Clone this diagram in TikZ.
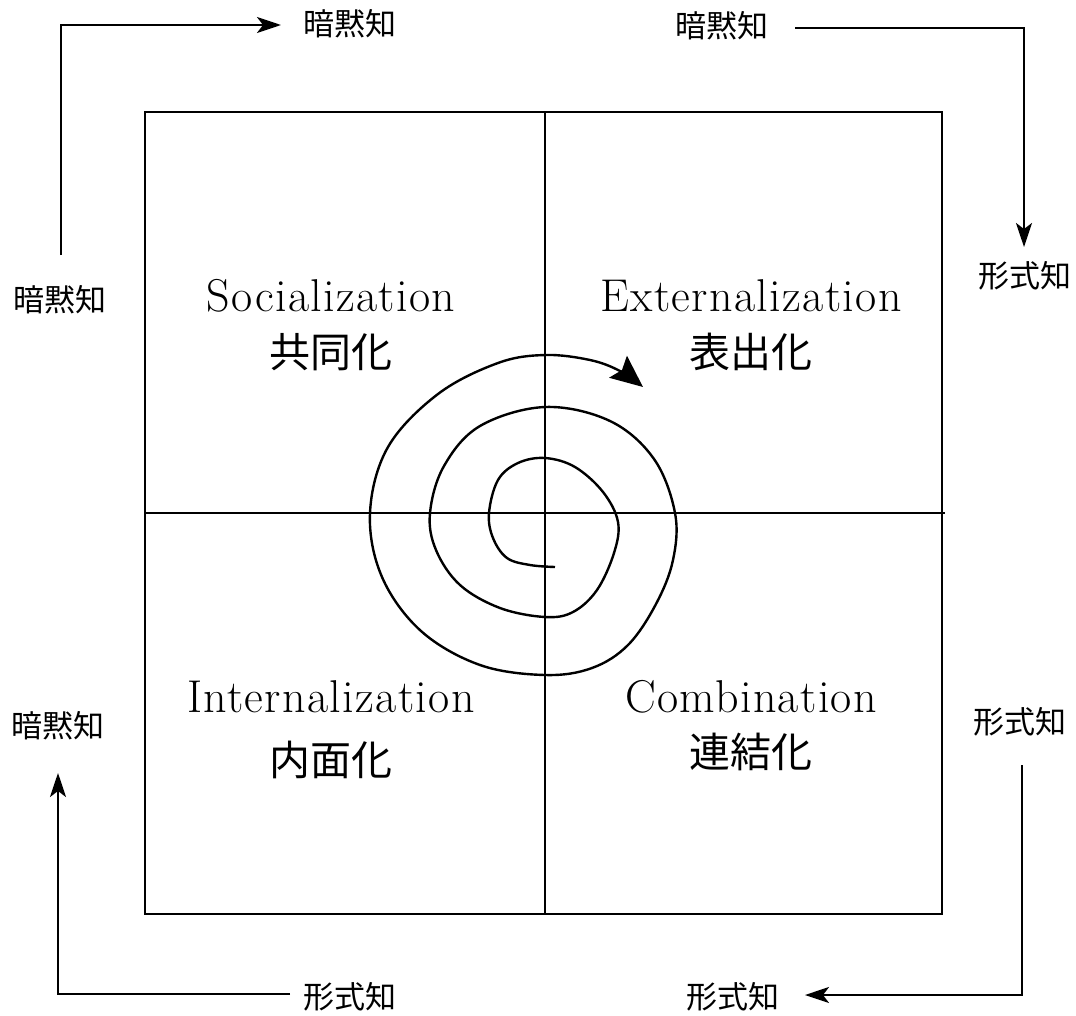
\documentclass[tikz,border=0pt]{standalone}
\usepackage{fontspec}
\setmainfont{Latin Modern Roman}[LetterSpace=3]
\newfontfamily\jp{Noto Sans CJK JP}
\usetikzlibrary{arrows.meta}
\begin{document}
\begin{tikzpicture}[x=1pt,y=-1pt,
  ln/.style={line width=2.4pt,line join=miter},
  arr/.style={ln,-{Stealth[length=24pt,width=16pt,inset=6pt]}},
  small/.style={font=\jp\fontsize{31}{33}\selectfont,inner sep=0pt},
  en/.style={font=\fontsize{46}{50}\selectfont,inner sep=0pt},
  big/.style={font=\jp\fontsize{41}{44}\selectfont,inner sep=0pt}]
\useasboundingbox (0,0) rectangle (1076,1015);
% grid
\draw[ln] (145,112) rectangle (942,914);
\draw[ln] (145,513) -- (945,513);
\draw[ln] (545,112) -- (545,914);
% quadrant labels
\node[en] (soc) at (331,296) {Socialization};
\node[big] (socj) at (331,352) {共同化};
\node[en] (ext) at (751,296) {Externalization};
\node[big] (extj) at (751,352) {表出化};
\node[en] (int) at (331,697) {Internalization};
\node[big] (intj) at (331,760) {内面化};
\node[en] (com) at (751,697) {Combination};
\node[big] (comj) at (751,752) {連結化};
% outer labels
\node[small] (tlT) at (350,24) {暗黙知};
\node[small] (trT) at (722,26) {暗黙知};
\node[small] (rT) at (1025,276) {形式知};
\node[small] (lT) at (60,300) {暗黙知};
\node[small] (lB) at (58,726) {暗黙知};
\node[small] (rB) at (1020,722) {形式知};
\node[small] (blB) at (350,997) {形式知};
\node[small] (brB) at (733,997) {形式知};
% corner arrows
\coordinate (c1s) at (61,255);
\coordinate (c1e) at (281,25);
\draw[arr] (c1s) |- (c1e);
\coordinate (c2s) at (795,28);
\coordinate (c2e) at (1024,247);
\draw[arr] (c2s) -| (c2e);
\coordinate (c3s) at (290,994);
\coordinate (c3e) at (58,773);
\draw[arr] (c3s) -| (c3e);
\coordinate (c4s) at (1022,765);
\coordinate (c4e) at (805,995);
\draw[arr] (c4s) |- (c4e);
% spiral
\draw[line width=2.4pt,-{Stealth[length=32pt,width=28pt,inset=5pt]}]
  plot[smooth,tension=0.6] coordinates {
  (555,567) (530,565) (507,558) (493,538) (489,513) (498,480) (518,463) (545,458)
  (575,467) (603,492) (618,522) (614,553) (597,590) (573,612) (545,617)
  (500,608) (460,585) (436,550) (430,513) (444,466) (480,426) (545,407)
  (610,421) (654,459) (675,513) (673,560) (656,604) (628,645)
  (592,668) (545,675) (480,665) (421,631) (382,577) (370,513) (388,447)
  (438,394) (498,363) (545,355) (590,360) (620,371) (643,387)};
\end{tikzpicture}
\end{document}
